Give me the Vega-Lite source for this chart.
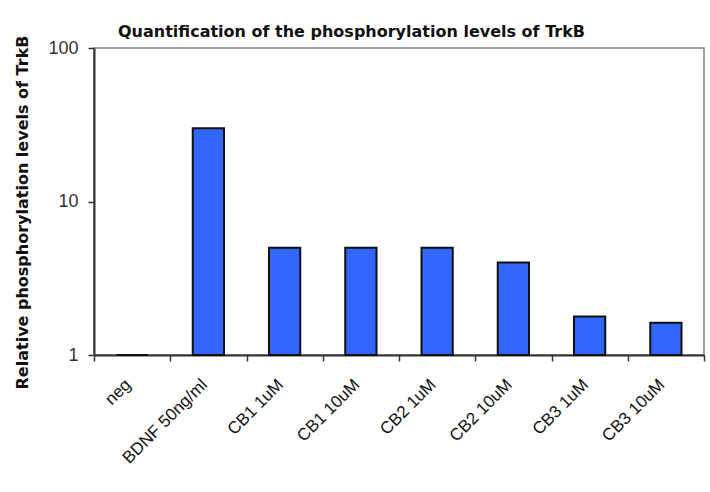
{
  "$schema": "https://vega.github.io/schema/vega-lite/v6.json",
  "autosize": {"type": "none"},
  "width": 610,
  "height": 307,
  "padding": {"left": 94, "top": 48, "right": 6, "bottom": 137},
  "background": "white",
  "title": {
    "text": "Quantification of the phosphorylation levels of TrkB",
    "anchor": "start",
    "frame": "group",
    "dx": 24,
    "offset": -5,
    "font": "DejaVu Sans",
    "fontSize": 16,
    "fontWeight": "bold",
    "color": "#111"
  },
  "config": {
    "view": {"stroke": "#808080", "strokeWidth": 1.5}
  },
  "data": {
    "values": [
      {"group": "neg", "value": 1},
      {"group": "BDNF 50ng/ml", "value": 30},
      {"group": "CB1 1uM", "value": 5},
      {"group": "CB1 10uM", "value": 5},
      {"group": "CB2 1uM", "value": 5},
      {"group": "CB2 10uM", "value": 4},
      {"group": "CB3 1uM", "value": 1.78},
      {"group": "CB3 10uM", "value": 1.62}
    ]
  },
  "mark": {"type": "bar", "width": {"band": 0.41}, "fill": "#3366FF", "stroke": "#111", "strokeWidth": 2},
  "encoding": {
    "x": {
      "field": "group",
      "type": "nominal",
      "sort": null,
      "scale": {"domain": ["neg", "BDNF 50ng/ml", "CB1 1uM", "CB1 10uM", "CB2 1uM", "CB2 10uM", "CB3 1uM", "CB3 10uM"], "paddingInner": 0, "paddingOuter": 0},
      "axis": {
        "title": null,
        "labelAngle": -45,
        "labelFont": "Liberation Sans",
        "labelFontSize": 17,
        "labelColor": "#111",
        "labelPadding": 15,
        "labelOffset": -10,
        "tickBand": "extent",
        "tickSize": 6,
        "tickColor": "#333",
        "tickWidth": 1.5,
        "domainColor": "#333",
        "domainWidth": 2
      }
    },
    "y": {
      "field": "value",
      "type": "quantitative",
      "scale": {"type": "log", "domain": [1, 100]},
      "axis": {
        "title": "Relative phosphorylation levels of TrkB",
        "titleFont": "DejaVu Sans",
        "titleFontSize": 16,
        "titleFontWeight": "bold",
        "titleColor": "#111",
        "titlePadding": 17,
        "titleY": 164,
        "values": [1, 10, 100],
        "format": "d",
        "grid": false,
        "labelFont": "Liberation Sans",
        "labelFontSize": 18,
        "labelColor": "#333",
        "labelPadding": 10,
        "tickSize": 6,
        "tickColor": "#333",
        "tickWidth": 1.5,
        "domainColor": "#333",
        "domainWidth": 2
      }
    },
    "y2": {"datum": 1}
  }
}
